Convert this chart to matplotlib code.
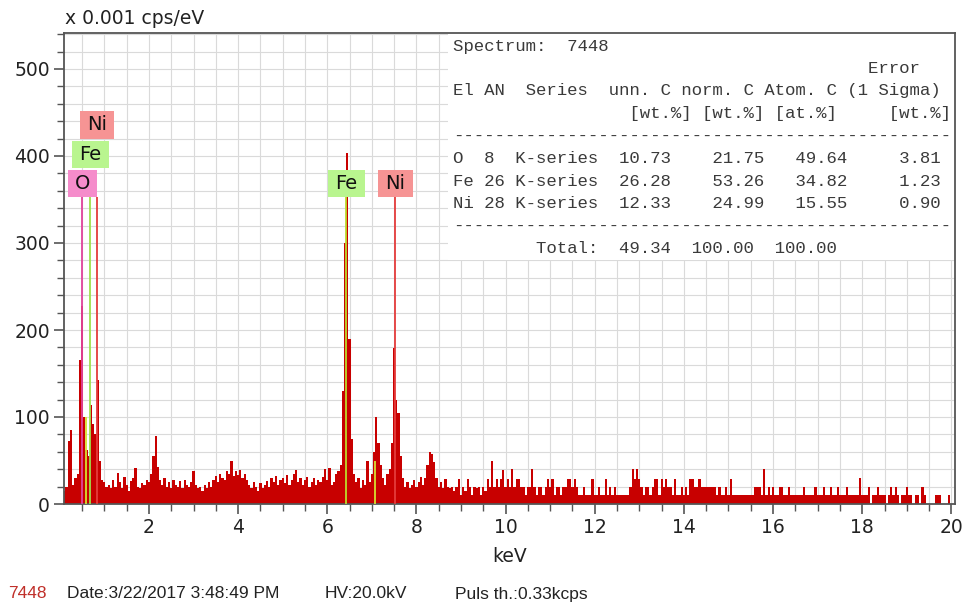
import numpy as np
import matplotlib
matplotlib.use('Agg')
import matplotlib.pyplot as plt
from matplotlib.ticker import MultipleLocator
from matplotlib.patches import Rectangle
from matplotlib import font_manager

# EDS spectrum 7448, counts in 0.05 keV bins starting at 0.00 keV (one row per keV)
bin_width = 0.05
counts = [
    0, 0, 15, 20, 72, 85, 22, 30, 35, 165, 228, 100, 62, 55, 114, 92, 80, 142, 50, 28,
    25, 20, 22, 18, 28, 20, 36, 25, 18, 31, 22, 15, 26, 30, 41, 20, 18, 24, 22, 28,
    25, 35, 55, 78, 42, 28, 22, 30, 20, 25, 18, 28, 22, 20, 26, 18, 28, 22, 20, 25,
    38, 22, 18, 20, 15, 22, 18, 25, 20, 28, 32, 25, 35, 30, 28, 38, 35, 50, 32, 38,
    33, 39, 30, 35, 28, 22, 18, 25, 20, 15, 24, 18, 22, 27, 20, 30, 25, 32, 22, 28,
    30, 24, 33, 22, 28, 35, 39, 25, 30, 22, 28, 31, 20, 25, 30, 22, 28, 25, 31, 40,
    28, 41, 22, 25, 35, 38, 45, 130, 300, 403, 190, 75, 35, 25, 30, 18, 28, 22, 50, 25,
    35, 60, 100, 70, 45, 30, 22, 35, 40, 70, 179, 120, 105, 55, 30, 20, 25, 18, 22, 28,
    20, 25, 31, 22, 30, 45, 60, 58, 48, 30, 20, 25, 18, 29, 20, 18, 20, 15, 20, 29,
    10, 20, 15, 29, 20, 10, 20, 18, 20, 10, 20, 15, 29, 20, 50, 20, 29, 20, 29, 39,
    20, 29, 20, 40, 20, 29, 29, 20, 20, 10, 20, 20, 40, 20, 10, 20, 20, 10, 20, 29,
    20, 29, 10, 20, 20, 10, 20, 20, 29, 29, 20, 29, 20, 10, 10, 20, 10, 10, 10, 29,
    10, 10, 20, 10, 10, 29, 10, 20, 10, 20, 10, 10, 10, 10, 10, 10, 20, 40, 29, 40,
    29, 20, 10, 20, 20, 10, 20, 29, 29, 10, 29, 20, 29, 20, 20, 10, 29, 10, 10, 20,
    10, 20, 10, 29, 29, 20, 20, 29, 20, 20, 20, 20, 20, 20, 20, 10, 20, 10, 10, 20,
    10, 29, 10, 10, 10, 10, 10, 10, 10, 10, 10, 10, 20, 20, 20, 10, 40, 10, 20, 10,
    20, 10, 10, 20, 20, 10, 10, 20, 10, 10, 10, 10, 10, 10, 20, 10, 10, 10, 10, 20,
    10, 10, 10, 20, 10, 10, 20, 10, 10, 20, 10, 10, 10, 20, 10, 10, 10, 10, 10, 30,
    10, 10, 10, 20, 0, 10, 10, 20, 10, 10, 10, 0, 10, 20, 10, 20, 10, 0, 10, 10,
    20, 10, 10, 0, 10, 10, 0, 20, 10, 0, 0, 0, 0, 10, 10, 10, 0, 0, 0, 10,
]
energy = np.arange(len(counts)) * bin_width

# identified lines: label, marker energy (keV), marker colour, label box colour
line_labels = ['O', 'Fe', 'Ni', 'Fe', 'Ni']
line_energies = [0.50, 0.68, 0.83, 6.42, 7.51]
line_colors = ['#e0449c', '#9ee04a', '#e43c3c', '#bcdc2c', '#e43c3c']
box_colors = ['#f58ccb', '#b9f58f', '#f69494', '#b9f58f', '#f69494']
# minor Fe lines without labels
minor_energies = [0.59, 7.08]
minor_heights = [100, 50]

# quantification table
elements = ['O', 'Fe', 'Ni']
atomic_numbers = [8, 26, 28]
unn_c = [10.73, 26.28, 12.33]
norm_c = [21.75, 53.26, 24.99]
atom_c = [49.64, 34.82, 15.55]
sigma = [3.81, 1.23, 0.90]
total = [49.34, 100.00, 100.00]

W, H = 970, 609
X0, KEV_PX = 59.8, 44.58    # pixel of 0 keV, pixels per keV
Y0, CNT_PX = 504.0, 0.87    # pixel of 0 counts, pixels per count unit


def to_data(xp, yp):
    return (xp - X0) / KEV_PX, (Y0 - yp) / CNT_PX


def fig_xy(xp, yp):
    return xp / W, 1 - yp / H


fig = plt.figure(figsize=(W / 100, H / 100), dpi=100)
ax = fig.add_axes([64 / W, 1 - 504 / H, (955 - 64) / W, (504 - 32.5) / H])

edges = np.append(energy - bin_width / 2, energy[-1] + bin_width / 2)
ax.stairs(counts, edges, fill=True, color='#c80000', linewidth=0, zorder=2)

# marker lines up to the bottom of the label boxes
top = to_data(0, 197)[1]
for e, c in zip(line_energies, line_colors):
    ax.vlines(e, 0, top, color=c, lw=1.3, zorder=3)
for e, h in zip(minor_energies, minor_heights):
    ax.vlines(e, 0, h, color='#d6e030', lw=1.3, zorder=3)

# label boxes (left edge, top edge, right edge, bottom edge in pixels)
box_px = [(68, 170, 97, 197), (72, 141, 109, 168), (80, 111, 114, 139),
          (328, 170, 365, 197), (378, 170, 413, 197)]
for lab, fc, (l, t, r, b) in zip(line_labels, box_colors, box_px):
    x1, y1 = to_data(l, b)
    x2, y2 = to_data(r, t)
    ax.add_patch(Rectangle((x1, y1), x2 - x1, y2 - y1, facecolor=fc,
                           edgecolor='none', zorder=4))
    ax.text((x1 + x2) / 2, (y1 + y2) / 2, lab, ha='center', va='center',
            fontsize=14, color='#111111', zorder=5)

ax.set_xlim(to_data(64, 0)[0], to_data(955, 0)[0])
ax.set_ylim(0, (Y0 - 32.5) / CNT_PX)
ax.xaxis.set_major_locator(MultipleLocator(2))
ax.xaxis.set_minor_locator(MultipleLocator(0.5))
ax.yaxis.set_major_locator(MultipleLocator(100))
ax.yaxis.set_minor_locator(MultipleLocator(20))
ax.grid(which='both', color='#dadada', lw=0.8)
ax.set_axisbelow(True)
ax.tick_params(which='major', length=7, width=1.2, color='#555555',
               labelsize=13.5, labelcolor='#222222', pad=3)
ax.tick_params(which='minor', length=5, width=1.0, color='#555555')
for s in ax.spines.values():
    s.set_color('#555555')
    s.set_linewidth(1.3)

# white panel behind the results table
tx0 = (448 - 64) / (955 - 64)
ty0 = (504 - 260) / (504 - 32.5)
ax.add_patch(Rectangle((tx0, ty0), 1 - tx0, 1 - ty0, transform=ax.transAxes,
                       facecolor='white', edgecolor='none', zorder=1.5))

rows = ['Spectrum:  7448',
        ' ' * 40 + 'Error',
        'El AN  Series  unn. C norm. C Atom. C (1 Sigma)',
        ' ' * 17 + '[wt.%] [wt.%] [at.%]     [wt.%]',
        '-' * 48]
for el, an, u, n, a, s in zip(elements, atomic_numbers, unn_c, norm_c, atom_c, sigma):
    rows.append(f'{el:<3}{an:<3}K-series  {u:5.2f}    {n:5.2f}   {a:5.2f}     {s:4.2f}')
rows.append('-' * 48)
rows.append(f"{'Total:':>14}  {total[0]:5.2f}  {total[1]:6.2f}  {total[2]:6.2f}")

for i, row in enumerate(rows):
    fx, fy = fig_xy(453, 46 + 22.5 * i)
    fig.text(fx, fy, row, family='Liberation Mono', fontsize=12.5,
             color='#3a3a3a', va='center', ha='left')

fig.text(*fig_xy(65, 19), 'x 0.001 cps/eV', fontsize=13.5, color='#222222',
         va='center', ha='left')
fig.text(*fig_xy(510, 556), 'keV', fontsize=13.5, color='#222222',
         va='center', ha='center')

names = [f.name for f in font_manager.fontManager.ttflist]
footer_font = 'Liberation Sans Narrow' if 'Liberation Sans Narrow' in names else 'Liberation Sans'
footer = [(8, '7448', '#c0302a'), (67, 'Date:3/22/2017 3:48:49 PM', '#222222'),
          (325, 'HV:20.0kV', '#222222'), (455, 'Puls th.:0.33kcps', '#222222')]
for xp, txt, c in footer:
    fig.text(*fig_xy(xp, 594), txt, family=footer_font, fontsize=12.5, color=c,
             va='center', ha='left')

fig.savefig('out.png', dpi=100)
